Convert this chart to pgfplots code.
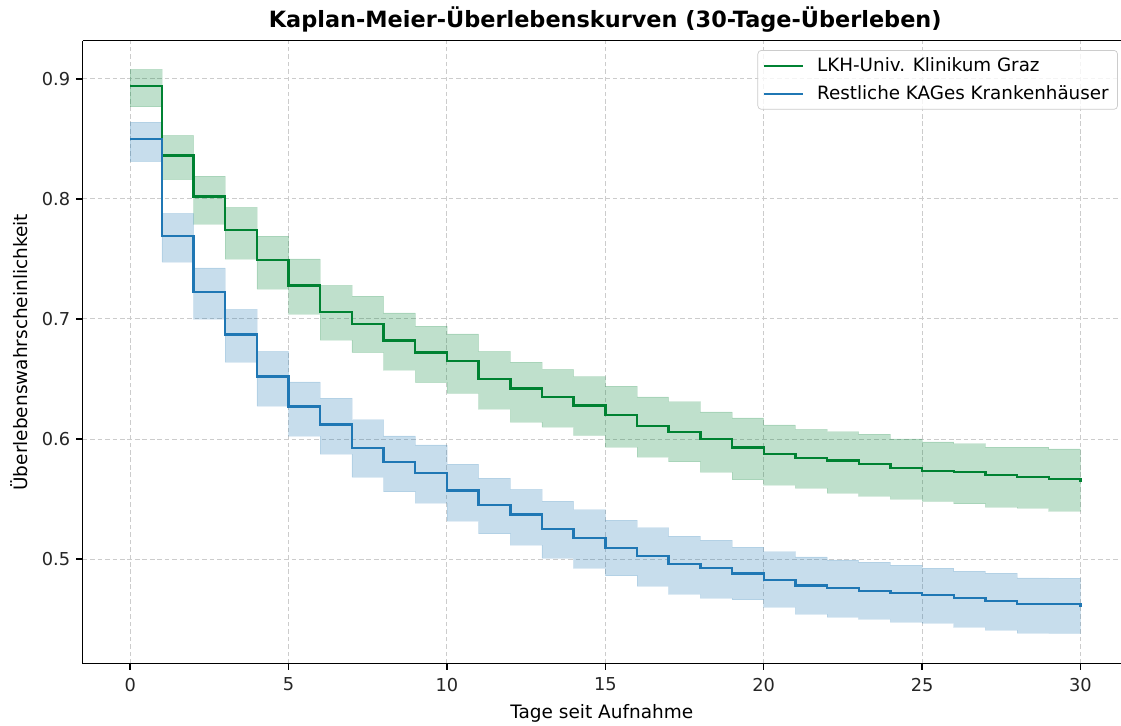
\documentclass[border=0pt]{standalone}
\usepackage{fontspec}
\setmainfont{DejaVu Sans}
\usepackage{pgfplots}
\pgfplotsset{compat=1.18}
\usepgfplotslibrary{fillbetween}
\usepackage{pgfplotstable}
\definecolor{kgreen}{RGB}{0,130,50}
\definecolor{tabblue}{RGB}{31,119,180}

\pgfplotstableread{
t g gu gl
0 0.894 0.908 0.8767
1 0.836 0.853 0.816
2 0.802 0.819 0.779
3 0.774 0.793 0.750
4 0.749 0.769 0.725
5 0.728 0.750 0.704
6 0.706 0.728 0.6825
7 0.696 0.719 0.672
8 0.682 0.705 0.6575
9 0.672 0.694 0.647
10 0.665 0.6875 0.638
11 0.650 0.673 0.625
12 0.642 0.664 0.614
13 0.635 0.658 0.610
14 0.628 0.652 0.603
15 0.620 0.644 0.5933
16 0.611 0.635 0.585
17 0.606 0.631 0.581
18 0.600 0.6225 0.5725
19 0.593 0.6175 0.566
20 0.5875 0.6117 0.5617
21 0.584 0.608 0.559
22 0.582 0.606 0.555
23 0.579 0.604 0.5525
24 0.576 0.600 0.550
25 0.5735 0.5975 0.548
26 0.5725 0.596 0.546
27 0.570 0.5933 0.5433
28 0.5683 0.5933 0.5425
29 0.5667 0.5917 0.540
30 0.5645 0.5917 0.540
}\graz

\pgfplotstableread{
t b bu bl
0 0.850 0.864 0.831
1 0.769 0.788 0.7475
2 0.7225 0.7425 0.700
3 0.687 0.708 0.664
4 0.652 0.673 0.6275
5 0.627 0.6475 0.6025
6 0.612 0.634 0.5875
7 0.5925 0.616 0.5683
8 0.581 0.6025 0.556
9 0.5717 0.595 0.5467
10 0.557 0.579 0.5317
11 0.545 0.5675 0.521
12 0.537 0.558 0.5117
13 0.525 0.5483 0.5008
14 0.5175 0.541 0.4925
15 0.509 0.5325 0.486
16 0.5025 0.526 0.4775
17 0.496 0.519 0.4708
18 0.4925 0.5158 0.4675
19 0.488 0.510 0.466
20 0.4825 0.506 0.460
21 0.478 0.5017 0.454
22 0.476 0.4992 0.4517
23 0.4733 0.4975 0.450
24 0.4717 0.495 0.4475
25 0.470 0.4925 0.4467
26 0.4675 0.490 0.4433
27 0.465 0.4883 0.4408
28 0.4625 0.4842 0.4383
29 0.4625 0.484 0.438
30 0.460 0.484 0.438
}\rest

\begin{document}
\begin{tikzpicture}
\begin{axis}[
  scale only axis,
  width=584pt, height=350.4pt,
  xmin=-1.5, xmax=31.28,
  ymin=0.4128, ymax=0.9318,
  axis x line*=box, axis y line*=left,
  axis line style={-, line width=0.8pt, black},
  xtick={0,5,10,15,20,25,30},
  ytick={0.5,0.6,0.7,0.8,0.9},
  yticklabel style={/pgf/number format/.cd, fixed, fixed zerofill, precision=1},
  xticklabel style={yshift=-1pt},
  /pgf/number format/assume math mode=true,
  xtick pos=bottom, ytick pos=left,
  tick align=outside,
  major tick length=3.5pt,
  tick style={line width=0.8pt, black},
  tick label style={font=\fontsize{10}{12}\selectfont, text=black!85},
  grid=major,
  major grid style={line width=0.55pt, color=black!20, dash pattern=on 2.6pt off 1.6pt},
  xlabel={Tage seit Aufnahme},
  ylabel={Überlebenswahrscheinlichkeit},
  label style={font=\fontsize{10.4}{12.5}\selectfont},
  xlabel style={yshift=-0.5pt},
  ylabel style={yshift=1pt},
  title={\textbf{Kaplan-Meier-Überlebenskurven (30-Tage-Überleben)}},
  title style={font=\fontsize{12.6}{15}\selectfont, at={(0.5033,1)}, anchor=south, yshift=-5pt},
  legend style={at={(0.997,0.985)}, anchor=north east, font=\fontsize{10.3}{12.4}\selectfont,
    draw=black!20, rounded corners=2pt, fill=white, fill opacity=0.8, text opacity=1,
    inner xsep=3pt, inner ysep=2pt, row sep=2.5pt},
  legend cell align=left,
  legend image code/.code={\draw[#1] (0pt,0pt) -- (22pt,0pt); \path (27pt,0pt);},
  clip=true,
]
\addplot[name path=gup, const plot, draw=none, forget plot] table[x=t, y=gu] {\graz};
\addplot[name path=glo, const plot, draw=none, forget plot] table[x=t, y=gl] {\graz};
\addplot[fill=kgreen, fill opacity=0.25, draw=kgreen, draw opacity=0.12, forget plot] fill between[of=gup and glo];
\addplot[name path=bup, const plot, draw=none, forget plot] table[x=t, y=bu] {\rest};
\addplot[name path=blo, const plot, draw=none, forget plot] table[x=t, y=bl] {\rest};
\addplot[fill=tabblue, fill opacity=0.25, draw=tabblue, draw opacity=0.12, forget plot] fill between[of=bup and blo];
\addplot[const plot, kgreen, line width=1.35pt] table[x=t, y=g] {\graz};
\addlegendentry{LKH-Univ. Klinikum Graz}
\addplot[const plot, tabblue, line width=1.35pt] table[x=t, y=b] {\rest};
\addlegendentry{Restliche KAGes Krankenhäuser}
\end{axis}
\pgfresetboundingbox
\useasboundingbox ([xshift=-46.5pt,yshift=-34.5pt]current axis.south west) rectangle ([yshift=22.9pt]current axis.north east);
\end{tikzpicture}
\end{document}
